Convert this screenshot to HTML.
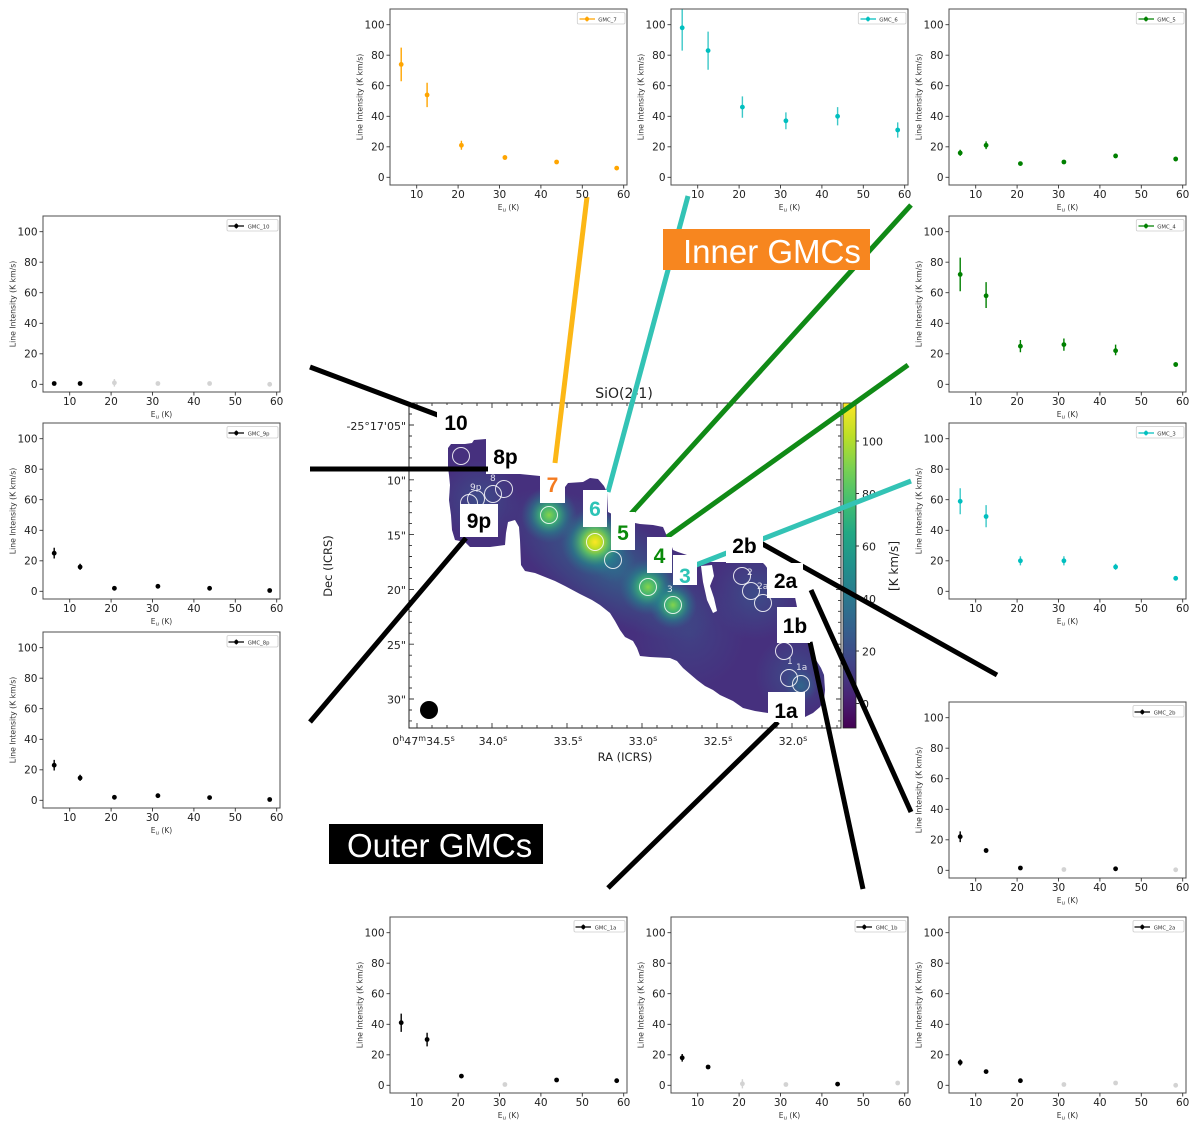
<!DOCTYPE html>
<html><head><meta charset="utf-8">
<style>
html,body{margin:0;padding:0;background:#fff;}
svg{display:block;}
.ax{fill:none;stroke:#4d4d4d;stroke-width:1}
.tk{stroke:#333;stroke-width:0.9;fill:none}
.tl{font-family:"DejaVu Sans",sans-serif;font-size:10.5px;fill:#222}
.xl{font-family:"DejaVu Sans",sans-serif;font-size:7.5px;fill:#333}
.yl{font-family:"DejaVu Sans",sans-serif;font-size:7.7px;fill:#333}
.lg{font-family:"DejaVu Sans",sans-serif;font-size:5.3px;fill:#333}
.lgb{fill:#fff;stroke:#ccc;stroke-width:0.8}
.eb{fill:none;stroke-width:1.4}
.mt{font-family:"DejaVu Sans",sans-serif;font-size:11px;fill:#222}
.lb{font-family:"Liberation Sans",Arial,sans-serif;font-weight:bold;font-size:21px}
.big{font-family:"Liberation Sans",Arial,sans-serif;font-size:33px;fill:#fff}
.cn{fill:none;stroke-width:5}
.gc{fill:none;stroke:#fff;stroke-opacity:0.85;stroke-width:1}
.sl{font-family:"DejaVu Sans",sans-serif;font-size:9px;fill:#fff;fill-opacity:0.85}
</style></head>
<body>
<svg width="1200" height="1127" viewBox="0 0 1200 1127" xmlns="http://www.w3.org/2000/svg">
<defs>
<linearGradient id="vir" x1="0" y1="1" x2="0" y2="0">
<stop offset="0" stop-color="#440154"/><stop offset="0.1" stop-color="#482475"/><stop offset="0.2" stop-color="#414487"/><stop offset="0.3" stop-color="#355f8d"/><stop offset="0.4" stop-color="#2a788e"/><stop offset="0.5" stop-color="#21918c"/><stop offset="0.6" stop-color="#22a884"/><stop offset="0.7" stop-color="#44bf70"/><stop offset="0.8" stop-color="#7ad151"/><stop offset="0.9" stop-color="#bddf26"/><stop offset="1" stop-color="#fde725"/>
</linearGradient>
<radialGradient id="gY"><stop offset="0" stop-color="#fde725"/><stop offset="0.18" stop-color="#c8e020"/><stop offset="0.4" stop-color="#5ec962" stop-opacity="0.85"/><stop offset="0.7" stop-color="#21918c" stop-opacity="0.45"/><stop offset="1" stop-color="#2c728e" stop-opacity="0"/></radialGradient>
<radialGradient id="gG"><stop offset="0" stop-color="#84d44b"/><stop offset="0.3" stop-color="#3fbc73" stop-opacity="0.9"/><stop offset="0.65" stop-color="#21918c" stop-opacity="0.45"/><stop offset="1" stop-color="#2c728e" stop-opacity="0"/></radialGradient>
<radialGradient id="gB"><stop offset="0" stop-color="#2c728e" stop-opacity="0.75"/><stop offset="1" stop-color="#2c728e" stop-opacity="0"/></radialGradient>
<radialGradient id="gP"><stop offset="0" stop-color="#3b528b" stop-opacity="0.8"/><stop offset="1" stop-color="#3b528b" stop-opacity="0"/></radialGradient>
<clipPath id="blobclip"><path id="blobp" d="M448,448 L451,444 L465,444 L472,443 L474,440 L486,439 L486,474 L520,474 L540,476 L545,480 L560,481 L565,487 L568,483 L583,482 L590,478 L598,479 L604,486 L607,492 L608,512 L612,514 L615,523 L635,523 L640,524 L653,525 L663,527 L666,534 L671,544 L673,550 L678,552 L687,555 L697,562 L726,562 L735,560 L760,560 L765,565 L770,572 L785,585 L795,597 L797,607 L800,612 L808,625 L809,643 L813,650 L816,660 L821,668 L824,675 L825,690 L824,700 L820,707 L813,713 L805,717 L790,718 L768,713 L755,711 L743,708 L733,701 L720,695 L713,690 L705,686 L697,680 L690,674 L683,668 L677,661 L670,658 L650,657 L640,656 L637,648 L633,641 L625,637 L620,630 L615,621 L610,613 L600,605 L592,600 L580,594 L565,586 L555,581 L545,577 L535,573 L525,571 L521,565 L520,540 L519,527 L515,520 L508,522 L506,533 L505,545 L490,547 L470,547 L465,542 L455,540 L452,530 L451,515 L449,500 L450,485 L449,475 L448,468 Z"/></clipPath>
</defs>

<!-- ============ MAP ============ -->
<g clip-path="url(#blobclip)">
<rect x="440" y="430" width="400" height="300" fill="#46307e"/>
<circle cx="690" cy="635" r="55" fill="url(#gP)" opacity="0.6"/>
<ellipse cx="610" cy="565" rx="120" ry="50" transform="rotate(32 610 565)" fill="url(#gB)"/>
<circle cx="480" cy="500" r="40" fill="url(#gP)"/>
<circle cx="755" cy="595" r="45" fill="url(#gP)"/>
<circle cx="795" cy="675" r="40" fill="url(#gP)"/>
<circle cx="801" cy="686" r="16" fill="url(#gB)"/>
<circle cx="613" cy="560" r="22" fill="url(#gB)"/>
<circle cx="549" cy="515" r="28" fill="url(#gG)"/>
<circle cx="648" cy="587" r="28" fill="url(#gG)"/>
<circle cx="673" cy="605" r="24" fill="url(#gG)"/>
<circle cx="595" cy="542" r="34" fill="url(#gY)"/>
</g>
<polygon points="701,566 712,565 714,576 710,586 714,598 717,611 713,613 707,600 703,582" fill="#fff"/>

<!-- GMC circles -->
<g class="gc">
<circle cx="461" cy="456" r="8.5"/><circle cx="469" cy="503" r="8.5"/><circle cx="476" cy="499" r="8.5"/><circle cx="493" cy="494" r="8.5"/><circle cx="504" cy="489" r="8.5"/>
<circle cx="549" cy="515" r="8.5"/><circle cx="595" cy="542" r="8.5"/><circle cx="613" cy="560" r="8.5"/><circle cx="648" cy="587" r="8.5"/><circle cx="673" cy="605" r="8.5"/>
<circle cx="742" cy="576" r="8.5"/><circle cx="751" cy="591" r="8.5"/><circle cx="763" cy="603" r="8.5"/>
<circle cx="784" cy="651" r="8.5"/><circle cx="789" cy="678" r="8.5"/><circle cx="801" cy="684" r="8.5"/>
</g>
<g class="sl">
<text x="470" y="490">9p</text><text x="490" y="481">8</text><text x="747" y="575">2</text><text x="757" y="589">2a</text><text x="787" y="664">1</text><text x="796" y="670">1a</text><text x="667" y="592">3</text>
</g>

<!-- beam -->
<circle cx="429" cy="710" r="9" fill="#000"/>

<!-- map frame and ticks -->
<rect x="409" y="403" width="432" height="325" fill="none" stroke="#222" stroke-width="1"/>
<path class="tk" d="M417,728v-5M492,728v-5M567,728v-5M642,728v-5M717,728v-5M792,728v-5M417,403v5M492,403v5M567,403v5M642,403v5M717,403v5M792,403v5
M432,728v-3M447,728v-3M462,728v-3M477,728v-3M507,728v-3M522,728v-3M537,728v-3M552,728v-3M582,728v-3M597,728v-3M612,728v-3M627,728v-3M657,728v-3M672,728v-3M687,728v-3M702,728v-3M732,728v-3M747,728v-3M762,728v-3M777,728v-3M807,728v-3M822,728v-3M837,728v-3
M432,403v3M447,403v3M462,403v3M477,403v3M507,403v3M522,403v3M537,403v3M552,403v3M582,403v3M597,403v3M612,403v3M627,403v3M657,403v3M672,403v3M687,403v3M702,403v3M732,403v3M747,403v3M762,403v3M777,403v3M807,403v3M822,403v3M837,403v3
M409,425h5M409,479.8h5M409,534.6h5M409,589.4h5M409,644.2h5M409,699h5M841,425h-5M841,479.8h-5M841,534.6h-5M841,589.4h-5M841,644.2h-5M841,699h-5
M409,414h3M409,436h3M409,446.9h3M409,457.9h3M409,468.8h3M409,490.8h3M409,501.7h3M409,512.7h3M409,523.6h3M409,545.6h3M409,556.5h3M409,567.5h3M409,578.4h3M409,600.4h3M409,611.3h3M409,622.3h3M409,633.2h3M409,655.2h3M409,666.1h3M409,677.1h3M409,688h3M409,710h3M409,720.9h3
M841,414h-3M841,436h-3M841,446.9h-3M841,457.9h-3M841,468.8h-3M841,490.8h-3M841,501.7h-3M841,512.7h-3M841,523.6h-3M841,545.6h-3M841,556.5h-3M841,567.5h-3M841,578.4h-3M841,600.4h-3M841,611.3h-3M841,622.3h-3M841,633.2h-3M841,655.2h-3M841,666.1h-3M841,677.1h-3M841,688h-3M841,710h-3M841,720.9h-3"/>

<!-- map tick labels -->
<g class="mt" text-anchor="end">
<text x="406" y="430">-25°17'05"</text>
<text x="406" y="484.5">10"</text>
<text x="406" y="539.5">15"</text>
<text x="406" y="594">20"</text>
<text x="406" y="649">25"</text>
<text x="406" y="703.5">30"</text>
</g>
<g class="mt" text-anchor="middle">
<text x="423.5" y="745">0<tspan font-size="8" dy="-4">h</tspan><tspan dy="4">47</tspan><tspan font-size="8" dy="-4">m</tspan><tspan dy="4">34.5</tspan><tspan font-size="8" dy="-4">s</tspan></text>
<text x="493" y="745">34.0<tspan font-size="8" dy="-4">s</tspan></text>
<text x="568" y="745">33.5<tspan font-size="8" dy="-4">s</tspan></text>
<text x="643" y="745">33.0<tspan font-size="8" dy="-4">s</tspan></text>
<text x="718" y="745">32.5<tspan font-size="8" dy="-4">s</tspan></text>
<text x="793" y="745">32.0<tspan font-size="8" dy="-4">s</tspan></text>
<text x="625" y="761" font-size="11.5">RA (ICRS)</text>
<text x="624" y="398" font-size="14">SiO(2-1)</text>
<text transform="translate(332,566) rotate(-90)" font-size="11.5">Dec (ICRS)</text>
</g>

<!-- colorbar -->
<rect x="843" y="403" width="13" height="325" fill="url(#vir)" stroke="#222" stroke-width="0.8"/>
<path class="tk" d="M856,441h3M856,493.5h3M856,546h3M856,598.5h3M856,651h3M856,703.5h3"/>
<g class="mt">
<text x="862" y="445.5">100</text><text x="862" y="498">80</text><text x="862" y="550.5">60</text><text x="862" y="603">40</text><text x="862" y="655.5">20</text><text x="862" y="708">0</text>
<text transform="translate(898,566) rotate(-90)" text-anchor="middle" font-size="12">[K km/s]</text>
</g>

<!-- ============ CONNECTORS ============ -->
<line class="cn" stroke="#fcb716" x1="587" y1="197" x2="555" y2="463"/>
<line class="cn" stroke="#33c3b5" x1="688" y1="196" x2="608" y2="492"/>
<line class="cn" stroke="#108a16" x1="911" y1="205" x2="627" y2="518"/>
<line class="cn" stroke="#108a16" x1="908" y1="365" x2="667" y2="537"/>
<line class="cn" stroke="#33c3b5" x1="911" y1="481" x2="696" y2="565"/>
<line class="cn" stroke="#000" x1="310" y1="367" x2="443" y2="417"/>
<line class="cn" stroke="#000" x1="310" y1="469" x2="488" y2="469"/>
<line class="cn" stroke="#000" x1="310" y1="722" x2="466" y2="538"/>
<line class="cn" stroke="#000" x1="757" y1="541" x2="997" y2="675"/>
<line class="cn" stroke="#000" x1="811" y1="590" x2="911" y2="812"/>
<line class="cn" stroke="#000" x1="810" y1="642" x2="863" y2="889"/>
<line class="cn" stroke="#000" x1="778" y1="722" x2="608" y2="888"/>

<!-- ============ LABEL BOXES ============ -->
<g fill="#fff">
<rect x="437" y="405" width="39" height="28"/>
<rect x="486" y="441" width="35" height="25"/>
<rect x="540" y="475" width="25" height="28"/>
<rect x="583" y="490" width="24" height="37"/>
<rect x="611" y="512" width="24" height="38"/>
<rect x="647" y="537" width="25" height="36"/>
<rect x="673" y="555" width="24" height="30"/>
<rect x="726" y="533" width="37" height="30"/>
<rect x="767" y="563" width="36" height="35"/>
<rect x="777" y="607" width="33" height="36"/>
<rect x="768" y="692" width="37" height="30"/>
<rect x="460" y="504" width="38" height="33"/>
</g>
<g class="lb" text-anchor="middle">
<text x="456" y="430" fill="#000">10</text>
<text x="505.5" y="464" fill="#000">8p</text>
<text x="552.5" y="492" fill="#f47b20">7</text>
<text x="595" y="516" fill="#2ec4b6">6</text>
<text x="623" y="540" fill="#0a8a0a">5</text>
<text x="659.5" y="563" fill="#0a8a0a">4</text>
<text x="685" y="583" fill="#2ec4b6">3</text>
<text x="744.5" y="553" fill="#000">2b</text>
<text x="785.5" y="588" fill="#000">2a</text>
<text x="795" y="633" fill="#000">1b</text>
<text x="786" y="718" fill="#000">1a</text>
<text x="479" y="528" fill="#000">9p</text>
</g>

<!-- ============ PLOTS ============ -->
<!-- GMC_7 -->
<g transform="translate(390,9)">
<rect class="ax" width="237" height="176"/>
<path class="tk" d="M0,168.3h-3.5M0,137.8h-3.5M0,107.3h-3.5M0,76.7h-3.5M0,46.2h-3.5M0,15.7h-3.5M26.7,176v3.5M68.1,176v3.5M109.5,176v3.5M150.9,176v3.5M192.3,176v3.5M233.7,176v3.5"/>
<text class="tl" text-anchor="end"><tspan x="-5.5" y="172.1">0</tspan><tspan x="-5.5" y="141.6">20</tspan><tspan x="-5.5" y="111.1">40</tspan><tspan x="-5.5" y="80.5">60</tspan><tspan x="-5.5" y="50">80</tspan><tspan x="-5.5" y="19.5">100</tspan></text>
<text class="tl" text-anchor="middle" y="189"><tspan x="26.7">10</tspan><tspan x="68.1">20</tspan><tspan x="109.5">30</tspan><tspan x="150.9">40</tspan><tspan x="192.3">50</tspan><tspan x="233.7">60</tspan></text>
<text class="xl" x="118.5" y="201" text-anchor="middle">E<tspan font-size="5.5" dy="1.5">u</tspan><tspan dy="-1.5"> (K)</tspan></text>
<text class="yl" text-anchor="middle" transform="translate(-27.5,88) rotate(-90)">Line Intensity (K km/s)</text>
<rect class="lgb" x="187.3" y="3.5" width="47.7" height="11.5" rx="1.5"/><path d="M189.5,10H205M197,7.5V12.5" stroke="#ffa500" stroke-width="1.2"/><circle cx="197" cy="10" r="2" fill="#ffa500"/><text class="lg" x="208.3" y="12.6">GMC_7</text>
<path class="eb" stroke="#ffa500" d="M11.2,72.2V38.6M37.1,98.1V73.7M71.4,140.8V131.7M114.9,150.7V146.2M166.6,154.6V151.5M226.7,160.4V157.9"/>
<g fill="#ffa500"><circle cx="11.2" cy="55.4" r="2.4"/><circle cx="37.1" cy="85.9" r="2.4"/><circle cx="71.4" cy="136.3" r="2.4"/><circle cx="114.9" cy="148.5" r="2.4"/><circle cx="166.6" cy="153" r="2.4"/><circle cx="226.7" cy="159.1" r="2.4"/></g>
</g>

<!-- GMC_6 -->
<g transform="translate(671,9)">
<rect class="ax" width="237" height="176"/>
<path class="tk" d="M0,168.3h-3.5M0,137.8h-3.5M0,107.3h-3.5M0,76.7h-3.5M0,46.2h-3.5M0,15.7h-3.5M26.7,176v3.5M68.1,176v3.5M109.5,176v3.5M150.9,176v3.5M192.3,176v3.5M233.7,176v3.5"/>
<text class="tl" text-anchor="end"><tspan x="-5.5" y="172.1">0</tspan><tspan x="-5.5" y="141.6">20</tspan><tspan x="-5.5" y="111.1">40</tspan><tspan x="-5.5" y="80.5">60</tspan><tspan x="-5.5" y="50">80</tspan><tspan x="-5.5" y="19.5">100</tspan></text>
<text class="tl" text-anchor="middle" y="189"><tspan x="26.7">10</tspan><tspan x="68.1">20</tspan><tspan x="109.5">30</tspan><tspan x="150.9">40</tspan><tspan x="192.3">50</tspan><tspan x="233.7">60</tspan></text>
<text class="xl" x="118.5" y="201" text-anchor="middle">E<tspan font-size="5.5" dy="1.5">u</tspan><tspan dy="-1.5"> (K)</tspan></text>
<text class="yl" text-anchor="middle" transform="translate(-27.5,88) rotate(-90)">Line Intensity (K km/s)</text>
<rect class="lgb" x="187.3" y="3.5" width="47.7" height="11.5" rx="1.5"/><path d="M189.5,10H205M197,7.5V12.5" stroke="#00bfbf" stroke-width="1.2"/><circle cx="197" cy="10" r="2" fill="#00bfbf"/><text class="lg" x="208.3" y="12.6">GMC_6</text>
<path class="eb" stroke="#3cc8c8" d="M11.2,41.6V0.5M37.1,60.7V22.6M71.4,108.8V87.4M114.9,120.2V103.4M166.6,116.4V98.1M226.7,128.6V113.4"/>
<g fill="#00bfbf"><circle cx="11.2" cy="18.8" r="2.4"/><circle cx="37.1" cy="41.6" r="2.4"/><circle cx="71.4" cy="98.1" r="2.4"/><circle cx="114.9" cy="111.8" r="2.4"/><circle cx="166.6" cy="107.3" r="2.4"/><circle cx="226.7" cy="121" r="2.4"/></g>
</g>

<!-- GMC_5 -->
<g transform="translate(949,9)">
<rect class="ax" width="237" height="176"/>
<path class="tk" d="M0,168.3h-3.5M0,137.8h-3.5M0,107.3h-3.5M0,76.7h-3.5M0,46.2h-3.5M0,15.7h-3.5M26.7,176v3.5M68.1,176v3.5M109.5,176v3.5M150.9,176v3.5M192.3,176v3.5M233.7,176v3.5"/>
<text class="tl" text-anchor="end"><tspan x="-5.5" y="172.1">0</tspan><tspan x="-5.5" y="141.6">20</tspan><tspan x="-5.5" y="111.1">40</tspan><tspan x="-5.5" y="80.5">60</tspan><tspan x="-5.5" y="50">80</tspan><tspan x="-5.5" y="19.5">100</tspan></text>
<text class="tl" text-anchor="middle" y="189"><tspan x="26.7">10</tspan><tspan x="68.1">20</tspan><tspan x="109.5">30</tspan><tspan x="150.9">40</tspan><tspan x="192.3">50</tspan><tspan x="233.7">60</tspan></text>
<text class="xl" x="118.5" y="201" text-anchor="middle">E<tspan font-size="5.5" dy="1.5">u</tspan><tspan dy="-1.5"> (K)</tspan></text>
<text class="yl" text-anchor="middle" transform="translate(-27.5,88) rotate(-90)">Line Intensity (K km/s)</text>
<rect class="lgb" x="187.3" y="3.5" width="47.7" height="11.5" rx="1.5"/><path d="M189.5,10H205M197,7.5V12.5" stroke="#008000" stroke-width="1.2"/><circle cx="197" cy="10" r="2" fill="#008000"/><text class="lg" x="208.3" y="12.6">GMC_5</text>
<path class="eb" stroke="#008000" d="M11.2,146.9V140.8M37.1,140.1V132.4M71.4,156.1V153M114.9,154.6V151.5M166.6,149.2V144.6M226.7,152.3V147.7"/>
<g fill="#008000"><circle cx="11.2" cy="143.9" r="2.4"/><circle cx="37.1" cy="136.3" r="2.4"/><circle cx="71.4" cy="154.6" r="2.4"/><circle cx="114.9" cy="153" r="2.4"/><circle cx="166.6" cy="146.9" r="2.4"/><circle cx="226.7" cy="150" r="2.4"/></g>
</g>

<!-- GMC_10 -->
<g transform="translate(43,216)">
<rect class="ax" width="237" height="176"/>
<path class="tk" d="M0,168.3h-3.5M0,137.8h-3.5M0,107.3h-3.5M0,76.7h-3.5M0,46.2h-3.5M0,15.7h-3.5M26.7,176v3.5M68.1,176v3.5M109.5,176v3.5M150.9,176v3.5M192.3,176v3.5M233.7,176v3.5"/>
<text class="tl" text-anchor="end"><tspan x="-5.5" y="172.1">0</tspan><tspan x="-5.5" y="141.6">20</tspan><tspan x="-5.5" y="111.1">40</tspan><tspan x="-5.5" y="80.5">60</tspan><tspan x="-5.5" y="50">80</tspan><tspan x="-5.5" y="19.5">100</tspan></text>
<text class="tl" text-anchor="middle" y="189"><tspan x="26.7">10</tspan><tspan x="68.1">20</tspan><tspan x="109.5">30</tspan><tspan x="150.9">40</tspan><tspan x="192.3">50</tspan><tspan x="233.7">60</tspan></text>
<text class="xl" x="118.5" y="201" text-anchor="middle">E<tspan font-size="5.5" dy="1.5">u</tspan><tspan dy="-1.5"> (K)</tspan></text>
<text class="yl" text-anchor="middle" transform="translate(-27.5,88) rotate(-90)">Line Intensity (K km/s)</text>
<rect class="lgb" x="184" y="3.5" width="51" height="11.5" rx="1.5"/><path d="M185.5,10H201M193.3,7.5V12.5" stroke="#000" stroke-width="1.2"/><circle cx="193.3" cy="10" r="2" fill="#000"/><text class="lg" x="204.7" y="12.6">GMC_10</text>
<path class="eb" stroke="#d3d3d3" d="M71.4,170.6V163"/>
<g fill="#d3d3d3"><circle cx="71.4" cy="166.8" r="2.4"/><circle cx="114.9" cy="167.5" r="2.4"/><circle cx="166.6" cy="167.5" r="2.4"/><circle cx="226.7" cy="168.3" r="2.4"/></g>
<g fill="#000"><circle cx="11.2" cy="167.5" r="2.4"/><circle cx="37.1" cy="167.5" r="2.4"/></g>
</g>

<!-- GMC_4 -->
<g transform="translate(949,216)">
<rect class="ax" width="237" height="176"/>
<path class="tk" d="M0,168.3h-3.5M0,137.8h-3.5M0,107.3h-3.5M0,76.7h-3.5M0,46.2h-3.5M0,15.7h-3.5M26.7,176v3.5M68.1,176v3.5M109.5,176v3.5M150.9,176v3.5M192.3,176v3.5M233.7,176v3.5"/>
<text class="tl" text-anchor="end"><tspan x="-5.5" y="172.1">0</tspan><tspan x="-5.5" y="141.6">20</tspan><tspan x="-5.5" y="111.1">40</tspan><tspan x="-5.5" y="80.5">60</tspan><tspan x="-5.5" y="50">80</tspan><tspan x="-5.5" y="19.5">100</tspan></text>
<text class="tl" text-anchor="middle" y="189"><tspan x="26.7">10</tspan><tspan x="68.1">20</tspan><tspan x="109.5">30</tspan><tspan x="150.9">40</tspan><tspan x="192.3">50</tspan><tspan x="233.7">60</tspan></text>
<text class="xl" x="118.5" y="201" text-anchor="middle">E<tspan font-size="5.5" dy="1.5">u</tspan><tspan dy="-1.5"> (K)</tspan></text>
<text class="yl" text-anchor="middle" transform="translate(-27.5,88) rotate(-90)">Line Intensity (K km/s)</text>
<rect class="lgb" x="187.3" y="3.5" width="47.7" height="11.5" rx="1.5"/><path d="M189.5,10H205M197,7.5V12.5" stroke="#008000" stroke-width="1.2"/><circle cx="197" cy="10" r="2" fill="#008000"/><text class="lg" x="208.3" y="12.6">GMC_4</text>
<path class="eb" stroke="#008000" d="M11.2,75.2V41.6M37.1,92V66.1M71.4,136.3V124M114.9,134.7V122.5M166.6,139.3V128.6M226.7,150.7V146.2"/>
<g fill="#008000"><circle cx="11.2" cy="58.4" r="2.4"/><circle cx="37.1" cy="79.8" r="2.4"/><circle cx="71.4" cy="130.2" r="2.4"/><circle cx="114.9" cy="128.6" r="2.4"/><circle cx="166.6" cy="134.7" r="2.4"/><circle cx="226.7" cy="148.5" r="2.4"/></g>
</g>

<!-- GMC_9p -->
<g transform="translate(43,423)">
<rect class="ax" width="237" height="176"/>
<path class="tk" d="M0,168.3h-3.5M0,137.8h-3.5M0,107.3h-3.5M0,76.7h-3.5M0,46.2h-3.5M0,15.7h-3.5M26.7,176v3.5M68.1,176v3.5M109.5,176v3.5M150.9,176v3.5M192.3,176v3.5M233.7,176v3.5"/>
<text class="tl" text-anchor="end"><tspan x="-5.5" y="172.1">0</tspan><tspan x="-5.5" y="141.6">20</tspan><tspan x="-5.5" y="111.1">40</tspan><tspan x="-5.5" y="80.5">60</tspan><tspan x="-5.5" y="50">80</tspan><tspan x="-5.5" y="19.5">100</tspan></text>
<text class="tl" text-anchor="middle" y="189"><tspan x="26.7">10</tspan><tspan x="68.1">20</tspan><tspan x="109.5">30</tspan><tspan x="150.9">40</tspan><tspan x="192.3">50</tspan><tspan x="233.7">60</tspan></text>
<text class="xl" x="118.5" y="201" text-anchor="middle">E<tspan font-size="5.5" dy="1.5">u</tspan><tspan dy="-1.5"> (K)</tspan></text>
<text class="yl" text-anchor="middle" transform="translate(-27.5,88) rotate(-90)">Line Intensity (K km/s)</text>
<rect class="lgb" x="184" y="3.5" width="51" height="11.5" rx="1.5"/><path d="M185.5,10H201M193.3,7.5V12.5" stroke="#000" stroke-width="1.2"/><circle cx="193.3" cy="10" r="2" fill="#000"/><text class="lg" x="204.7" y="12.6">GMC_9p</text>
<path class="eb" stroke="#000" d="M11.2,135.5V124.8M37.1,146.9V140.8"/>
<g fill="#000"><circle cx="11.2" cy="130.2" r="2.4"/><circle cx="37.1" cy="143.9" r="2.4"/><circle cx="71.4" cy="165.3" r="2.4"/><circle cx="114.9" cy="163.3" r="2.4"/><circle cx="166.6" cy="165.3" r="2.4"/><circle cx="226.7" cy="167.5" r="2.4"/></g>
</g>

<!-- GMC_3 -->
<g transform="translate(949,423)">
<rect class="ax" width="237" height="176"/>
<path class="tk" d="M0,168.3h-3.5M0,137.8h-3.5M0,107.3h-3.5M0,76.7h-3.5M0,46.2h-3.5M0,15.7h-3.5M26.7,176v3.5M68.1,176v3.5M109.5,176v3.5M150.9,176v3.5M192.3,176v3.5M233.7,176v3.5"/>
<text class="tl" text-anchor="end"><tspan x="-5.5" y="172.1">0</tspan><tspan x="-5.5" y="141.6">20</tspan><tspan x="-5.5" y="111.1">40</tspan><tspan x="-5.5" y="80.5">60</tspan><tspan x="-5.5" y="50">80</tspan><tspan x="-5.5" y="19.5">100</tspan></text>
<text class="tl" text-anchor="middle" y="189"><tspan x="26.7">10</tspan><tspan x="68.1">20</tspan><tspan x="109.5">30</tspan><tspan x="150.9">40</tspan><tspan x="192.3">50</tspan><tspan x="233.7">60</tspan></text>
<text class="xl" x="118.5" y="201" text-anchor="middle">E<tspan font-size="5.5" dy="1.5">u</tspan><tspan dy="-1.5"> (K)</tspan></text>
<text class="yl" text-anchor="middle" transform="translate(-27.5,88) rotate(-90)">Line Intensity (K km/s)</text>
<rect class="lgb" x="187.3" y="3.5" width="47.7" height="11.5" rx="1.5"/><path d="M189.5,10H205M197,7.5V12.5" stroke="#00bfbf" stroke-width="1.2"/><circle cx="197" cy="10" r="2" fill="#00bfbf"/><text class="lg" x="208.3" y="12.6">GMC_3</text>
<path class="eb" stroke="#3cc8c8" d="M11.2,91.2V65.3M37.1,104.2V82.1M71.4,142.4V133.2M114.9,142.4V133.2M166.6,146.9V140.8M226.7,156.8V153.8"/>
<g fill="#00bfbf"><circle cx="11.2" cy="78.3" r="2.4"/><circle cx="37.1" cy="93.5" r="2.4"/><circle cx="71.4" cy="137.8" r="2.4"/><circle cx="114.9" cy="137.8" r="2.4"/><circle cx="166.6" cy="143.9" r="2.4"/><circle cx="226.7" cy="155.3" r="2.4"/></g>
</g>

<!-- GMC_8p -->
<g transform="translate(43,632)">
<rect class="ax" width="237" height="176"/>
<path class="tk" d="M0,168.3h-3.5M0,137.8h-3.5M0,107.3h-3.5M0,76.7h-3.5M0,46.2h-3.5M0,15.7h-3.5M26.7,176v3.5M68.1,176v3.5M109.5,176v3.5M150.9,176v3.5M192.3,176v3.5M233.7,176v3.5"/>
<text class="tl" text-anchor="end"><tspan x="-5.5" y="172.1">0</tspan><tspan x="-5.5" y="141.6">20</tspan><tspan x="-5.5" y="111.1">40</tspan><tspan x="-5.5" y="80.5">60</tspan><tspan x="-5.5" y="50">80</tspan><tspan x="-5.5" y="19.5">100</tspan></text>
<text class="tl" text-anchor="middle" y="189"><tspan x="26.7">10</tspan><tspan x="68.1">20</tspan><tspan x="109.5">30</tspan><tspan x="150.9">40</tspan><tspan x="192.3">50</tspan><tspan x="233.7">60</tspan></text>
<text class="xl" x="118.5" y="201" text-anchor="middle">E<tspan font-size="5.5" dy="1.5">u</tspan><tspan dy="-1.5"> (K)</tspan></text>
<text class="yl" text-anchor="middle" transform="translate(-27.5,88) rotate(-90)">Line Intensity (K km/s)</text>
<rect class="lgb" x="184" y="3.5" width="51" height="11.5" rx="1.5"/><path d="M185.5,10H201M193.3,7.5V12.5" stroke="#000" stroke-width="1.2"/><circle cx="193.3" cy="10" r="2" fill="#000"/><text class="lg" x="204.7" y="12.6">GMC_8p</text>
<path class="eb" stroke="#000" d="M11.2,138.5V127.9M37.1,148.9V142.8"/>
<g fill="#000"><circle cx="11.2" cy="133.2" r="2.4"/><circle cx="37.1" cy="145.9" r="2.4"/><circle cx="71.4" cy="165.3" r="2.4"/><circle cx="114.9" cy="163.7" r="2.4"/><circle cx="166.6" cy="165.6" r="2.4"/><circle cx="226.7" cy="167.5" r="2.4"/></g>
</g>

<!-- GMC_2b -->
<g transform="translate(949,702)">
<rect class="ax" width="237" height="176"/>
<path class="tk" d="M0,168.3h-3.5M0,137.8h-3.5M0,107.3h-3.5M0,76.7h-3.5M0,46.2h-3.5M0,15.7h-3.5M26.7,176v3.5M68.1,176v3.5M109.5,176v3.5M150.9,176v3.5M192.3,176v3.5M233.7,176v3.5"/>
<text class="tl" text-anchor="end"><tspan x="-5.5" y="172.1">0</tspan><tspan x="-5.5" y="141.6">20</tspan><tspan x="-5.5" y="111.1">40</tspan><tspan x="-5.5" y="80.5">60</tspan><tspan x="-5.5" y="50">80</tspan><tspan x="-5.5" y="19.5">100</tspan></text>
<text class="tl" text-anchor="middle" y="189"><tspan x="26.7">10</tspan><tspan x="68.1">20</tspan><tspan x="109.5">30</tspan><tspan x="150.9">40</tspan><tspan x="192.3">50</tspan><tspan x="233.7">60</tspan></text>
<text class="xl" x="118.5" y="201" text-anchor="middle">E<tspan font-size="5.5" dy="1.5">u</tspan><tspan dy="-1.5"> (K)</tspan></text>
<text class="yl" text-anchor="middle" transform="translate(-27.5,88) rotate(-90)">Line Intensity (K km/s)</text>
<rect class="lgb" x="184" y="3.5" width="51" height="11.5" rx="1.5"/><path d="M185.5,10H201M193.3,7.5V12.5" stroke="#000" stroke-width="1.2"/><circle cx="193.3" cy="10" r="2" fill="#000"/><text class="lg" x="204.7" y="12.6">GMC_2b</text>
<g fill="#d3d3d3"><circle cx="114.9" cy="167.5" r="2.4"/><circle cx="226.7" cy="167.8" r="2.4"/></g>
<path class="eb" stroke="#000" d="M11.2,140.1V129.4M37.1,150.7V146.2"/>
<g fill="#000"><circle cx="11.2" cy="134.7" r="2.4"/><circle cx="37.1" cy="148.5" r="2.4"/><circle cx="71.4" cy="166" r="2.4"/><circle cx="166.6" cy="166.8" r="2.4"/></g>
</g>

<!-- GMC_1a -->
<g transform="translate(390,917)">
<rect class="ax" width="237" height="176"/>
<path class="tk" d="M0,168.3h-3.5M0,137.8h-3.5M0,107.3h-3.5M0,76.7h-3.5M0,46.2h-3.5M0,15.7h-3.5M26.7,176v3.5M68.1,176v3.5M109.5,176v3.5M150.9,176v3.5M192.3,176v3.5M233.7,176v3.5"/>
<text class="tl" text-anchor="end"><tspan x="-5.5" y="172.1">0</tspan><tspan x="-5.5" y="141.6">20</tspan><tspan x="-5.5" y="111.1">40</tspan><tspan x="-5.5" y="80.5">60</tspan><tspan x="-5.5" y="50">80</tspan><tspan x="-5.5" y="19.5">100</tspan></text>
<text class="tl" text-anchor="middle" y="189"><tspan x="26.7">10</tspan><tspan x="68.1">20</tspan><tspan x="109.5">30</tspan><tspan x="150.9">40</tspan><tspan x="192.3">50</tspan><tspan x="233.7">60</tspan></text>
<text class="xl" x="118.5" y="201" text-anchor="middle">E<tspan font-size="5.5" dy="1.5">u</tspan><tspan dy="-1.5"> (K)</tspan></text>
<text class="yl" text-anchor="middle" transform="translate(-27.5,88) rotate(-90)">Line Intensity (K km/s)</text>
<rect class="lgb" x="184" y="3.5" width="51" height="11.5" rx="1.5"/><path d="M185.5,10H201M193.3,7.5V12.5" stroke="#000" stroke-width="1.2"/><circle cx="193.3" cy="10" r="2" fill="#000"/><text class="lg" x="204.7" y="12.6">GMC_1a</text>
<g fill="#d3d3d3"><circle cx="114.9" cy="167.5" r="2.4"/></g>
<path class="eb" stroke="#000" d="M11.2,114.9V96.6M37.1,129.4V115.7"/>
<g fill="#000"><circle cx="11.2" cy="105.7" r="2.4"/><circle cx="37.1" cy="122.5" r="2.4"/><circle cx="71.4" cy="159.1" r="2.4"/><circle cx="166.6" cy="163" r="2.4"/><circle cx="226.7" cy="163.7" r="2.4"/></g>
</g>

<!-- GMC_1b -->
<g transform="translate(671,917)">
<rect class="ax" width="237" height="176"/>
<path class="tk" d="M0,168.3h-3.5M0,137.8h-3.5M0,107.3h-3.5M0,76.7h-3.5M0,46.2h-3.5M0,15.7h-3.5M26.7,176v3.5M68.1,176v3.5M109.5,176v3.5M150.9,176v3.5M192.3,176v3.5M233.7,176v3.5"/>
<text class="tl" text-anchor="end"><tspan x="-5.5" y="172.1">0</tspan><tspan x="-5.5" y="141.6">20</tspan><tspan x="-5.5" y="111.1">40</tspan><tspan x="-5.5" y="80.5">60</tspan><tspan x="-5.5" y="50">80</tspan><tspan x="-5.5" y="19.5">100</tspan></text>
<text class="tl" text-anchor="middle" y="189"><tspan x="26.7">10</tspan><tspan x="68.1">20</tspan><tspan x="109.5">30</tspan><tspan x="150.9">40</tspan><tspan x="192.3">50</tspan><tspan x="233.7">60</tspan></text>
<text class="xl" x="118.5" y="201" text-anchor="middle">E<tspan font-size="5.5" dy="1.5">u</tspan><tspan dy="-1.5"> (K)</tspan></text>
<text class="yl" text-anchor="middle" transform="translate(-27.5,88) rotate(-90)">Line Intensity (K km/s)</text>
<rect class="lgb" x="184" y="3.5" width="51" height="11.5" rx="1.5"/><path d="M185.5,10H201M193.3,7.5V12.5" stroke="#000" stroke-width="1.2"/><circle cx="193.3" cy="10" r="2" fill="#000"/><text class="lg" x="204.7" y="12.6">GMC_1b</text>
<path class="eb" stroke="#d3d3d3" d="M71.4,171.4V162.2"/>
<g fill="#d3d3d3"><circle cx="71.4" cy="166.8" r="2.4"/><circle cx="114.9" cy="167.5" r="2.4"/><circle cx="226.7" cy="166" r="2.4"/></g>
<path class="eb" stroke="#000" d="M11.2,144.6V137M37.1,151.5V148.5"/>
<g fill="#000"><circle cx="11.2" cy="140.8" r="2.4"/><circle cx="37.1" cy="150" r="2.4"/><circle cx="166.6" cy="167.1" r="2.4"/></g>
</g>

<!-- GMC_2a -->
<g transform="translate(949,917)">
<rect class="ax" width="237" height="176"/>
<path class="tk" d="M0,168.3h-3.5M0,137.8h-3.5M0,107.3h-3.5M0,76.7h-3.5M0,46.2h-3.5M0,15.7h-3.5M26.7,176v3.5M68.1,176v3.5M109.5,176v3.5M150.9,176v3.5M192.3,176v3.5M233.7,176v3.5"/>
<text class="tl" text-anchor="end"><tspan x="-5.5" y="172.1">0</tspan><tspan x="-5.5" y="141.6">20</tspan><tspan x="-5.5" y="111.1">40</tspan><tspan x="-5.5" y="80.5">60</tspan><tspan x="-5.5" y="50">80</tspan><tspan x="-5.5" y="19.5">100</tspan></text>
<text class="tl" text-anchor="middle" y="189"><tspan x="26.7">10</tspan><tspan x="68.1">20</tspan><tspan x="109.5">30</tspan><tspan x="150.9">40</tspan><tspan x="192.3">50</tspan><tspan x="233.7">60</tspan></text>
<text class="xl" x="118.5" y="201" text-anchor="middle">E<tspan font-size="5.5" dy="1.5">u</tspan><tspan dy="-1.5"> (K)</tspan></text>
<text class="yl" text-anchor="middle" transform="translate(-27.5,88) rotate(-90)">Line Intensity (K km/s)</text>
<rect class="lgb" x="184" y="3.5" width="51" height="11.5" rx="1.5"/><path d="M185.5,10H201M193.3,7.5V12.5" stroke="#000" stroke-width="1.2"/><circle cx="193.3" cy="10" r="2" fill="#000"/><text class="lg" x="204.7" y="12.6">GMC_2a</text>
<g fill="#d3d3d3"><circle cx="114.9" cy="167.5" r="2.4"/><circle cx="166.6" cy="166" r="2.4"/><circle cx="226.7" cy="168.3" r="2.4"/></g>
<path class="eb" stroke="#000" d="M11.2,148.5V142.4"/>
<g fill="#000"><circle cx="11.2" cy="145.4" r="2.4"/><circle cx="37.1" cy="154.6" r="2.4"/><circle cx="71.4" cy="163.7" r="2.4"/></g>
</g>

<!-- ============ GROUP TAGS ============ -->
<rect x="663" y="229" width="207" height="41" fill="#f7861f"/>
<text class="big" x="683" y="263">Inner GMCs</text>
<rect x="329" y="824" width="214" height="40" fill="#000"/>
<text class="big" x="347" y="857">Outer GMCs</text>
</svg>
</body></html>
